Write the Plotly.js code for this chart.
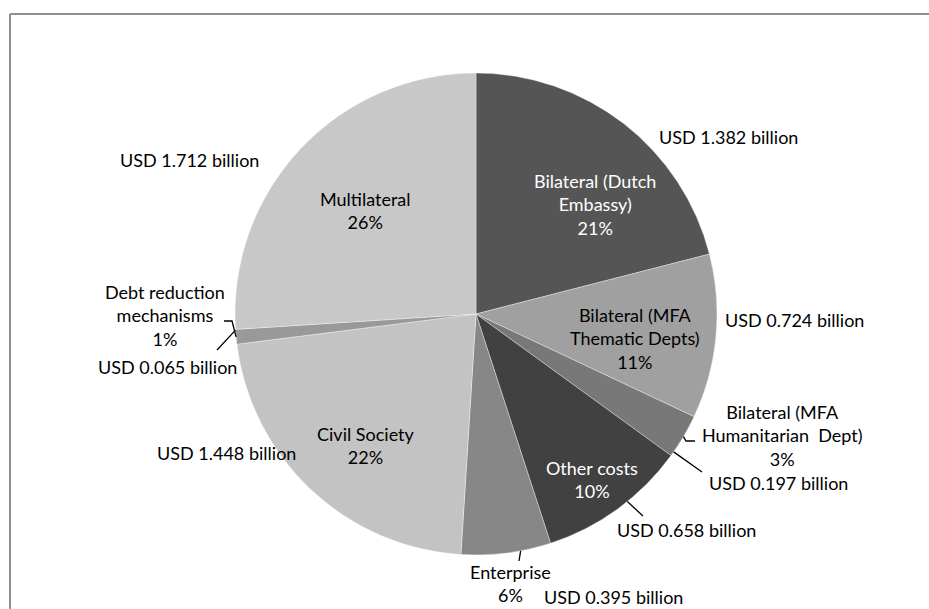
<!DOCTYPE html>
<html>
<head>
<meta charset="utf-8">
<script src="https://cdn.plot.ly/plotly-3.0.1.min.js"></script>
<style>
  html, body { margin: 0; padding: 0; background: #ffffff; overflow: hidden; }
  #chart { width: 929px; height: 609px; }
</style>
</head>
<body>
<div id="chart"></div>
<script>
// ---- data ----
const categories = [
  "Bilateral (Dutch Embassy)",
  "Bilateral (MFA Thematic Depts)",
  "Bilateral (MFA Humanitarian Dept)",
  "Other costs",
  "Enterprise",
  "Civil Society",
  "Debt reduction mechanisms",
  "Multilateral"
];
const displayNames = [
  "Bilateral (Dutch<br>Embassy)",
  "Bilateral (MFA<br>Thematic Depts)",
  "Bilateral (MFA<br>Humanitarian  Dept)",
  "Other costs",
  "Enterprise",
  "Civil Society",
  "Debt reduction<br>mechanisms",
  "Multilateral"
];
const valuesUSDbn = [1.382, 0.724, 0.197, 0.658, 0.395, 1.448, 0.065, 1.712];
const sliceColors = ["#555555", "#a0a0a0", "#787878", "#414141", "#878787", "#c3c3c3", "#999999", "#c8c8c8"];

// ---- layout helpers ----
const W = 929, H = 609;
const cx = 476, cy = 314, R = 241;
const px = x => x / W;
const py = y => 1 - y / H;

const total = valuesUSDbn.reduce((a, b) => a + b, 0);
const startDeg = [];
let acc = 0;
valuesUSDbn.forEach(v => { startDeg.push(acc / total * 360); acc += v; });
const spanDeg = valuesUSDbn.map(v => v / total * 360);
const pct = valuesUSDbn.map(v => Math.round(v / total * 100) + "%");
const usd = valuesUSDbn.map(v => "USD " + v.toFixed(3) + " billion");

function edge(i, frac, extra) {
  const a = (startDeg[i] + frac * spanDeg[i]) * Math.PI / 180;
  return [cx + (R + extra) * Math.sin(a), cy - (R + extra) * Math.cos(a)];
}

// name/percent label placement (pixel centre), colour
const nameLabels = [
  {i: 0, x: 595, y: 205, color: "#ffffff"},
  {i: 1, x: 635, y: 338, color: "#000000"},
  {i: 2, x: 782, y: 435, color: "#000000"},
  {i: 3, x: 592, y: 479, color: "#ffffff"},
  {i: 4, x: 510, y: 583, color: "#000000"},
  {i: 5, x: 366, y: 445, color: "#000000"},
  {i: 6, x: 165, y: 315, color: "#000000"},
  {i: 7, x: 365, y: 210, color: "#000000"}
];
// value label placement (pixel, left edge / vertical middle)
const valueLabels = [
  {i: 0, x: 657, y: 137},
  {i: 1, x: 723, y: 320},
  {i: 2, x: 707, y: 483},
  {i: 3, x: 615, y: 530},
  {i: 4, x: 542, y: 597},
  {i: 5, x: 155, y: 453},
  {i: 6, x: 96,  y: 367},
  {i: 7, x: 118, y: 160}
];
// leader lines: start on slice edge (fraction through slice), then points
const leaders = [
  {i: 6, frac: 0.5, pts: [[232, 321], [224, 321]]},
  {i: 6, frac: 0.95, pts: [[217, 350]]},
  {i: 2, frac: 0.5, pts: [[686, 441], [695, 441]]},
  {i: 2, frac: 0.9, pts: [[702, 472]]},
  {i: 3, frac: 0.42, pts: [[643, 516]]},
  {i: 4, frac: 0.34, pts: [[519, 561]]}
];

const FONT = "Lato, 'Open Sans', sans-serif";
const FS = 18;

const annotations = [];
nameLabels.forEach(l => {
  annotations.push({
    xref: "paper", yref: "paper", x: px(l.x), y: py(l.y),
    xanchor: "center", yanchor: "middle", showarrow: false, align: "center",
    text: displayNames[l.i] + "<br>" + pct[l.i],
    font: {family: FONT, size: FS, color: l.color}
  });
});
valueLabels.forEach(l => {
  annotations.push({
    xref: "paper", yref: "paper", x: px(l.x), y: py(l.y),
    xanchor: "left", yanchor: "middle", showarrow: false,
    text: usd[l.i], font: {family: FONT, size: FS, color: "#000000"}
  });
});

const shapes = [
  {type: "line", xref: "paper", yref: "paper", x0: px(10), y0: py(14), x1: px(940), y1: py(14),
   line: {color: "#8f8f8f", width: 2}},
  {type: "line", xref: "paper", yref: "paper", x0: px(10), y0: py(14), x1: px(10), y1: py(620),
   line: {color: "#8f8f8f", width: 2}}
];
leaders.forEach(l => {
  const s = edge(l.i, l.frac, 0);
  let p = "M" + px(s[0]) + "," + py(s[1]);
  l.pts.forEach(q => { p += " L" + px(q[0]) + "," + py(q[1]); });
  shapes.push({type: "path", xref: "paper", yref: "paper", path: p,
               line: {color: "#000000", width: 1.3}});
});

const trace = {
  type: "pie",
  labels: categories,
  values: valuesUSDbn,
  sort: false,
  direction: "clockwise",
  rotation: 0,
  textinfo: "none",
  hoverinfo: "label+value+percent",
  marker: {colors: sliceColors, line: {color: "rgba(255,255,255,0.45)", width: 0.8}},
  domain: {x: [px(cx - R), px(cx + R)], y: [py(cy + R), py(cy - R)]},
  showlegend: false
};

const layout = {
  width: W, height: H,
  margin: {l: 0, r: 0, t: 0, b: 0},
  paper_bgcolor: "#ffffff",
  showlegend: false,
  annotations: annotations,
  shapes: shapes
};

Plotly.newPlot("chart", [trace], layout, {displayModeBar: false, staticPlot: true});
</script>
</body>
</html>
